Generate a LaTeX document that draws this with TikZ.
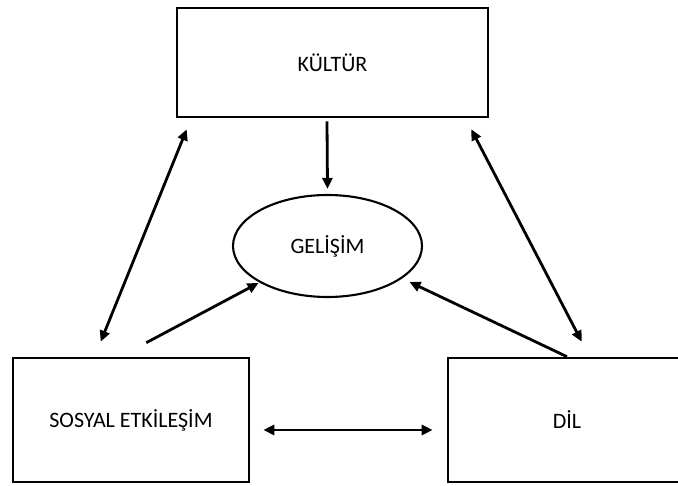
\documentclass[tikz,border=0pt]{standalone}
\usepackage{fontspec}
\setmainfont{Carlito}
\usetikzlibrary{arrows.meta,shapes.geometric}

\begin{document}
\begin{tikzpicture}[
    x=1pt, y=-1pt,
    box/.style={draw, line width=2.6pt, minimum width=#1, minimum height=124pt, inner sep=0pt, font=\fontsize{22}{26}\selectfont},
    oval/.style={draw, ellipse, line width=2.1pt, minimum width=189pt, minimum height=102pt, inner sep=0pt, font=\fontsize{22}{26}\selectfont},
    arrow/.style={-{Triangle[length=11pt,width=10pt]}, line width=2.8pt},
    dblarrow/.style={{Triangle[length=11pt,width=10pt]}-{Triangle[length=11pt,width=10pt]}, line width=2.8pt}
]
\useasboundingbox (0,0) rectangle (678,486);
\clip (0,0) rectangle (678,486);
\node[box=311pt, minimum height=109pt] (kultur) at (332.5,62.5) {KÜLTÜR};
\node[oval] (gelisim) at (327.5,246) {GELİŞİM};
\node[box=236pt] (sosyal) at (131,420) {SOSYAL ETKİLEŞİM};
\node[box=238pt] (dil) at (567,420) {DİL};
\draw[arrow] ([shift={(-5.5,3)}]kultur.south) -- ([shift={(0,-5)}]gelisim.north);
\draw[dblarrow] ([shift={(11,11)}]kultur.south west) -- ([shift={(89,-15)}]sosyal.north west);
\draw[dblarrow] ([shift={(-18,11)}]kultur.south east) -- ([shift={(135,-15)}]dil.north west);
\draw[arrow] ([shift={(-104,-14)}]sosyal.north east) -- ([shift={(-69,37)}]gelisim.center);
\draw[arrow] (dil.north) -- ([shift={(82,36)}]gelisim.center);
\draw[dblarrow] ([shift={(13,10)}]sosyal.east) -- ([shift={(-14,10)}]dil.west);
\end{tikzpicture}
\end{document}
